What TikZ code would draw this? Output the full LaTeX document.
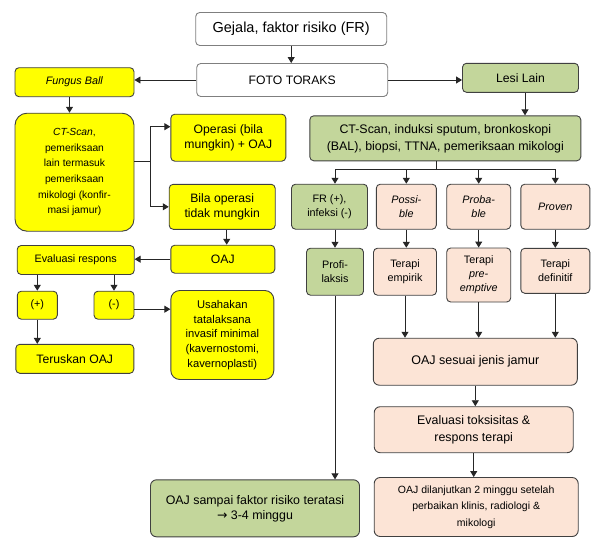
\documentclass[tikz,border=0pt]{standalone}
\usepackage{fontspec}
\setmainfont{Liberation Sans}
\newfontfamily\symfont{DejaVu Sans}
\usetikzlibrary{arrows.meta,calc}
\definecolor{grey}{HTML}{7F7F7F}
\definecolor{dgrey}{HTML}{404040}
\definecolor{yel}{HTML}{FFFF00}
\definecolor{olive}{HTML}{C3D69B}
\definecolor{peach}{HTML}{FCE4D6}
\tikzset{box/.style={draw=dgrey,rounded corners=4pt,align=center,inner sep=2pt,line width=0.9pt},
         pwhite/.style={box,fill=white,draw=grey},
         pyel/.style={box,fill=yel},
         pgrn/.style={box,fill=olive},
         ppch/.style={box,fill=peach},
         tbig/.style={font=\fontsize{14.5}{17}\selectfont},
         tmed/.style={font=\fontsize{12.2}{15}\selectfont},
         tsm/.style={font=\fontsize{10.8}{14}\selectfont},
         arr/.style={-{Triangle[length=6pt,width=7pt]},black!85,line width=0.9pt}}

\begin{document}
\begin{tikzpicture}[x=1pt,y=-1pt]
 \useasboundingbox (0,0) rectangle (597,538);
 \node[pwhite,tbig,minimum width=191,minimum height=33] (gj) at (291.2,29) {Gejala, faktor risiko (FR)};
 \node[pwhite,tmed,minimum width=191,minimum height=33] (ft) at (292.2,80) {FOTO TORAKS};
 \node[pyel,tsm,minimum width=119,minimum height=29] (fb) at (74.5,82.2) {\textit{Fungus Ball}};
 \node[pgrn,tmed,minimum width=116,minimum height=29] (ll) at (520.5,77.8) {Lesi Lain};
 \node[pyel,font=\fontsize{10.3}{15.6}\selectfont,rounded corners=12pt,minimum width=119,minimum height=118] (ctl) at (74.5,172.2)
   {\textit{CT-Scan},\\pemeriksaan\\lain termasuk\\pemeriksaan\\mikologi (konfir-\\masi jamur)};
 \node[pyel,tmed,minimum width=115,minimum height=47] (op) at (228.3,137.7) {Operasi (bila\\mungkin) + OAJ};
 \node[pyel,tmed,minimum width=106,minimum height=45] (bo) at (222.2,206.8) {Bila operasi\\tidak mungkin};
 \node[pgrn,font=\fontsize{12.4}{17}\selectfont,minimum width=271,minimum height=45] (ctg) at (445.3,138.3)
   {CT-Scan, induksi sputum, bronkoskopi\\(BAL), biopsi, TTNA, pemeriksaan mikologi};
 \node[pgrn,tsm,minimum width=76,minimum height=45] (fr) at (329.5,206.7) {FR (+),\\infeksi (-)};
 \node[ppch,tsm,minimum width=60,minimum height=45] (ps) at (406.3,206.7) {\textit{Possi-}\\\textit{ble}};
 \node[ppch,tsm,minimum width=64,minimum height=45] (pb) at (478.7,206.7) {\textit{Proba-}\\\textit{ble}};
 \node[ppch,tsm,minimum width=69,minimum height=45] (pv) at (555.3,206.7) {\textit{Proven}};
 \node[pyel,tmed,minimum width=104,minimum height=28] (oaj) at (222.8,259.2) {OAJ};
 \node[pyel,tsm,minimum width=117,minimum height=29] (ev) at (75.7,260) {Evaluasi respons};
 \node[pyel,tsm,minimum width=40,minimum height=28] (pl) at (37.3,305.2) {(+)};
 \node[pyel,tsm,minimum width=40,minimum height=28] (mn) at (114,305.2) {(-)};
 \node[pyel,font=\fontsize{11.2}{14.6}\selectfont,rounded corners=9pt,minimum width=103,minimum height=89] (us) at (222.3,335)
   {Usahakan\\tatalaksana\\invasif minimal\\(kavernostomi,\\kavernoplasti)};
 \node[pyel,tmed,minimum width=118,minimum height=29] (tr) at (74.8,358.8) {Teruskan OAJ};
 \node[pgrn,tsm,minimum width=57,minimum height=47] (pf) at (335,271.7) {Profi-\\laksis};
 \node[ppch,tsm,minimum width=63,minimum height=47] (te) at (405,271.7) {Terapi\\empirik};
 \node[ppch,tsm,minimum width=64,minimum height=54] (tp) at (478.7,275) {Terapi\\\textit{pre-}\\\textit{emptive}};
 \node[ppch,tsm,minimum width=69,minimum height=45] (td) at (555.3,270.8) {Terapi\\definitif};
 \node[ppch,font=\fontsize{12.5}{15}\selectfont,rounded corners=6pt,minimum width=204,minimum height=47] (os) at (475.3,361.7) {OAJ sesuai jenis jamur};
 \node[ppch,font=\fontsize{12.4}{17}\selectfont,rounded corners=6pt,minimum width=199,minimum height=46] (et) at (473.7,429.7)
   {Evaluasi toksisitas \&\\respons terapi};
 \node[pgrn,font=\fontsize{12.4}{15}\selectfont,rounded corners=6pt,minimum width=209,minimum height=57] (osf) at (255,508.3)
   {OAJ sampai faktor risiko teratasi\\{\symfont →} 3-4 minggu};
 \node[ppch,font=\fontsize{10.5}{16.5}\selectfont,rounded corners=6pt,minimum width=204,minimum height=59] (odl) at (476.2,507)
   {OAJ dilanjutkan 2 minggu setelah\\perbaikan klinis, radiologi \&\\mikologi};
 \coordinate (jl) at (150.7,161);
 \coordinate (jg) at (436.7,169.3);
 \draw[arr] (gj.south) -- (gj.south |- ft.north);
 \draw[arr] (ft.west) -- (ft.west -| fb.east); \draw[arr] (ft.east) -- (ft.east -| ll.west);
 \draw[arr] ([xshift=4.5pt]ll.south) -- ([xshift=4.5pt]ll.south |- ctg.north);
 \draw[arr] ([xshift=-5pt]fb.south) -- ([xshift=-5pt]fb.south |- ctl.north);
 \draw[arr,-] (ctl.east |- jl) -- (jl);
 \draw[arr] (jl) |- ([yshift=11pt]op.west); \draw[arr] (jl) |- (bo.west);
 \draw[arr] ([xshift=4.5pt]bo.south) -- ([xshift=4.5pt]bo.south |- oaj.north);
 \draw[arr] (oaj.west) -- (oaj.west -| ev.east);
 \draw[arr] (ev.south -| pl) -- (pl.north); \draw[arr] (ev.south -| mn) -- (mn.north);
 \draw[arr] (pl.south) -- (pl.south |- tr.north);
 \draw[arr] ([yshift=-4pt]mn.east) -- ([yshift=-4pt]mn.east -| us.west);
 \draw[arr,-] (ctg.south -| jg) -- (jg); \draw[arr,-] (jg -| pf) -- (jg -| pv);
 \draw[arr] (jg -| pf) -- (fr.north -| pf);
 \foreach \n in {ps,pb,pv} \draw[arr] (jg -| \n) -- (\n.north);
 \draw[arr] (fr.south -| pf) -- (pf.north); \draw[arr] (ps.south) -- (ps.south |- te.north);
 \draw[arr] (pb.south) -- (pb.south |- tp.north); \draw[arr] (pv.south) -- (pv.south |- td.north);
 \draw[arr] (pf.south) -- (pf.south |- osf.north);
 \draw[arr] (te.south) -- (te.south |- os.north); \draw[arr] (tp.south) -- (tp.south |- os.north);
 \draw[arr] (td.south) -- (td.south |- os.north);
 \draw[arr] (os.south) -- (os.south |- et.north); \draw[arr] (et.south) -- (et.south |- odl.north);
\end{tikzpicture}
\end{document}
